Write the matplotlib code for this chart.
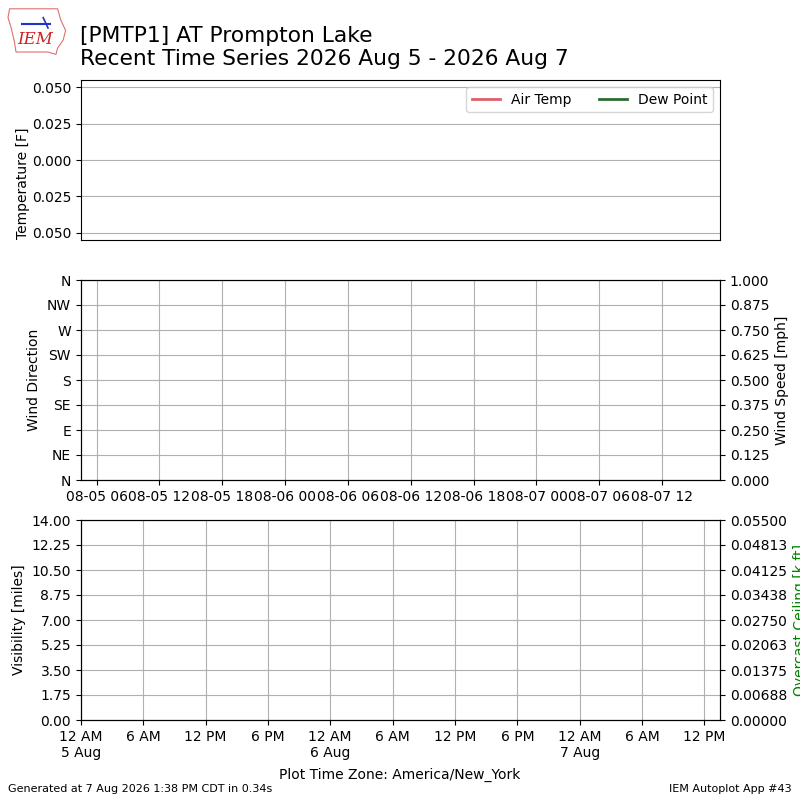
import datetime
import matplotlib
matplotlib.use("Agg")
import matplotlib.pyplot as plt
import matplotlib.dates as mdates
from matplotlib.ticker import FuncFormatter, FixedLocator
from matplotlib.patches import Polygon

# station and period
station = "PMTP1"
station_name = "AT Prompton Lake"
period_label = "2026 Aug 5 - 2026 Aug 7"
generated = "Generated at 7 Aug 2026 1:38 PM CDT in 0.34s"
timezone_label = "Plot Time Zone: America/New_York"

# no observations were returned for this window
valid = []
tmpf = []
dwpf = []
drct = []
sknt = []
vsby = []
ceiling = []

# axis windows
wind_start = datetime.datetime(2026, 8, 5, 4, 30)
wind_end = datetime.datetime(2026, 8, 7, 17, 31)
vis_start = datetime.datetime(2026, 8, 5, 0, 0)
vis_end = datetime.datetime(2026, 8, 7, 13, 30)

dir_ticks = [0, 45, 90, 135, 180, 225, 270, 315, 360]
dir_labels = ["N", "NE", "E", "SE", "S", "SW", "W", "NW", "N"]
temp_lim = (-0.055, 0.055)
temp_ticks = [-0.05, -0.025, 0.0, 0.025, 0.05]
speed_ticks = [0, 0.125, 0.25, 0.375, 0.5, 0.625, 0.75, 0.875, 1.0]
vis_ticks = [0, 1.75, 3.5, 5.25, 7.0, 8.75, 10.5, 12.25, 14.0]
ceil_ticks = [0, 0.006875, 0.01375, 0.020625, 0.0275,
              0.034375, 0.04125, 0.048125, 0.055]

fig = plt.figure(figsize=(8, 8), dpi=100)

# logo (rough drawing of the IEM state outline)
outline = [(0.012, 0.989), (0.072, 0.989), (0.076, 0.975), (0.082, 0.962),
           (0.079, 0.950), (0.072, 0.940), (0.070, 0.932), (0.060, 0.935),
           (0.020, 0.935), (0.018, 0.948), (0.014, 0.965), (0.010, 0.978)]
fig.patches.append(Polygon(outline, closed=True, fill=False, edgecolor="#e07070",
                           linewidth=0.8, transform=fig.transFigure))
fig.add_artist(plt.Line2D([0.028, 0.062], [0.970, 0.970], color="#2233cc",
                          linewidth=1.5, transform=fig.transFigure))
fig.add_artist(plt.Line2D([0.054, 0.060], [0.978, 0.965], color="#2233cc",
                          linewidth=1.2, transform=fig.transFigure))
fig.text(0.044, 0.951, "IEM", color="#cc2222", fontsize=12, style="italic",
         family="DejaVu Serif", ha="center", va="center")

fig.text(0.1, 0.968, "[%s] %s\nRecent Time Series %s" % (station, station_name, period_label),
         fontsize=15.7, va="top", ha="left")

# temperature
ax1 = fig.add_axes([0.101, 0.7, 0.799, 0.2])
ax1.plot(valid, tmpf, color="#e0606a", linewidth=2, label="Air Temp")
ax1.plot(valid, dwpf, color="#2e6b30", linewidth=2, label="Dew Point")
ax1.set_ylim(*temp_lim)
ax1.set_yticks(temp_ticks)
ax1.yaxis.set_major_formatter(FuncFormatter(lambda v, p: "%.3f" % abs(v)))
ax1.set_xticks([])
ax1.grid(True, axis="y")
ax1.set_ylabel("Temperature [F]")
ax1.yaxis.set_label_coords(-0.08, 0.355)
ax1.legend(loc="upper right", ncol=2)

# wind
ax2 = fig.add_axes([0.101, 0.4, 0.799, 0.25])
ax2.plot(valid, drct, color="b")
ax2.set_ylim(0, 360)
ax2.set_yticks(dir_ticks)
ax2.set_yticklabels(dir_labels)
ax2.set_ylabel("Wind Direction")
ax2.xaxis_date()
ax2.set_xlim(wind_start, wind_end)
ax2.xaxis.set_major_locator(mdates.HourLocator(byhour=[0, 6, 12, 18]))
ax2.xaxis.set_major_formatter(mdates.DateFormatter("%m-%d %H"))
ax2.grid(True)
ax2b = ax2.twinx()
ax2b.plot(valid, sknt, color="r")
ax2b.set_ylim(0, 1)
ax2b.yaxis.set_major_locator(FixedLocator(speed_ticks))
ax2b.yaxis.set_major_formatter(FuncFormatter(lambda v, p: "%.3f" % v))
ax2b.set_ylabel("Wind Speed [mph]")

# visibility and ceiling
ax3 = fig.add_axes([0.101, 0.1, 0.799, 0.25])
ax3.plot(valid, vsby, color="k")
ax3.set_ylim(0, 14)
ax3.yaxis.set_major_locator(FixedLocator(vis_ticks))
ax3.yaxis.set_major_formatter(FuncFormatter(lambda v, p: "%.2f" % v))
ax3.set_ylabel("Visibility [miles]")
ax3.xaxis_date()
ax3.set_xlim(vis_start, vis_end)
ax3.xaxis.set_major_locator(mdates.HourLocator(byhour=[0, 6, 12, 18]))


def fmt_time(x, pos):
    dt = mdates.num2date(x)
    hr = dt.hour % 12
    if hr == 0:
        hr = 12
    txt = "%d %s" % (hr, "AM" if dt.hour < 12 else "PM")
    if dt.hour == 0:
        txt += "\n%d %s" % (dt.day, dt.strftime("%b"))
    return txt


ax3.xaxis.set_major_formatter(FuncFormatter(fmt_time))
ax3.grid(True)
ax3b = ax3.twinx()
ax3b.plot(valid, ceiling, color="g")
ax3b.set_ylim(0, 0.055)
ax3b.yaxis.set_major_locator(FixedLocator(ceil_ticks))
ax3b.yaxis.set_major_formatter(FuncFormatter(lambda v, p: "%.5f" % v))
ax3b.set_ylabel("Overcast Ceiling [k ft]", color="g")

fig.text(0.5, 0.031, timezone_label, ha="center", va="center", fontsize=10)
fig.text(0.01, 0.014, generated, ha="left", va="center", fontsize=8)
fig.text(0.99, 0.014, "IEM Autoplot App #43", ha="right", va="center", fontsize=8)

fig.savefig("out.png", dpi=100)
